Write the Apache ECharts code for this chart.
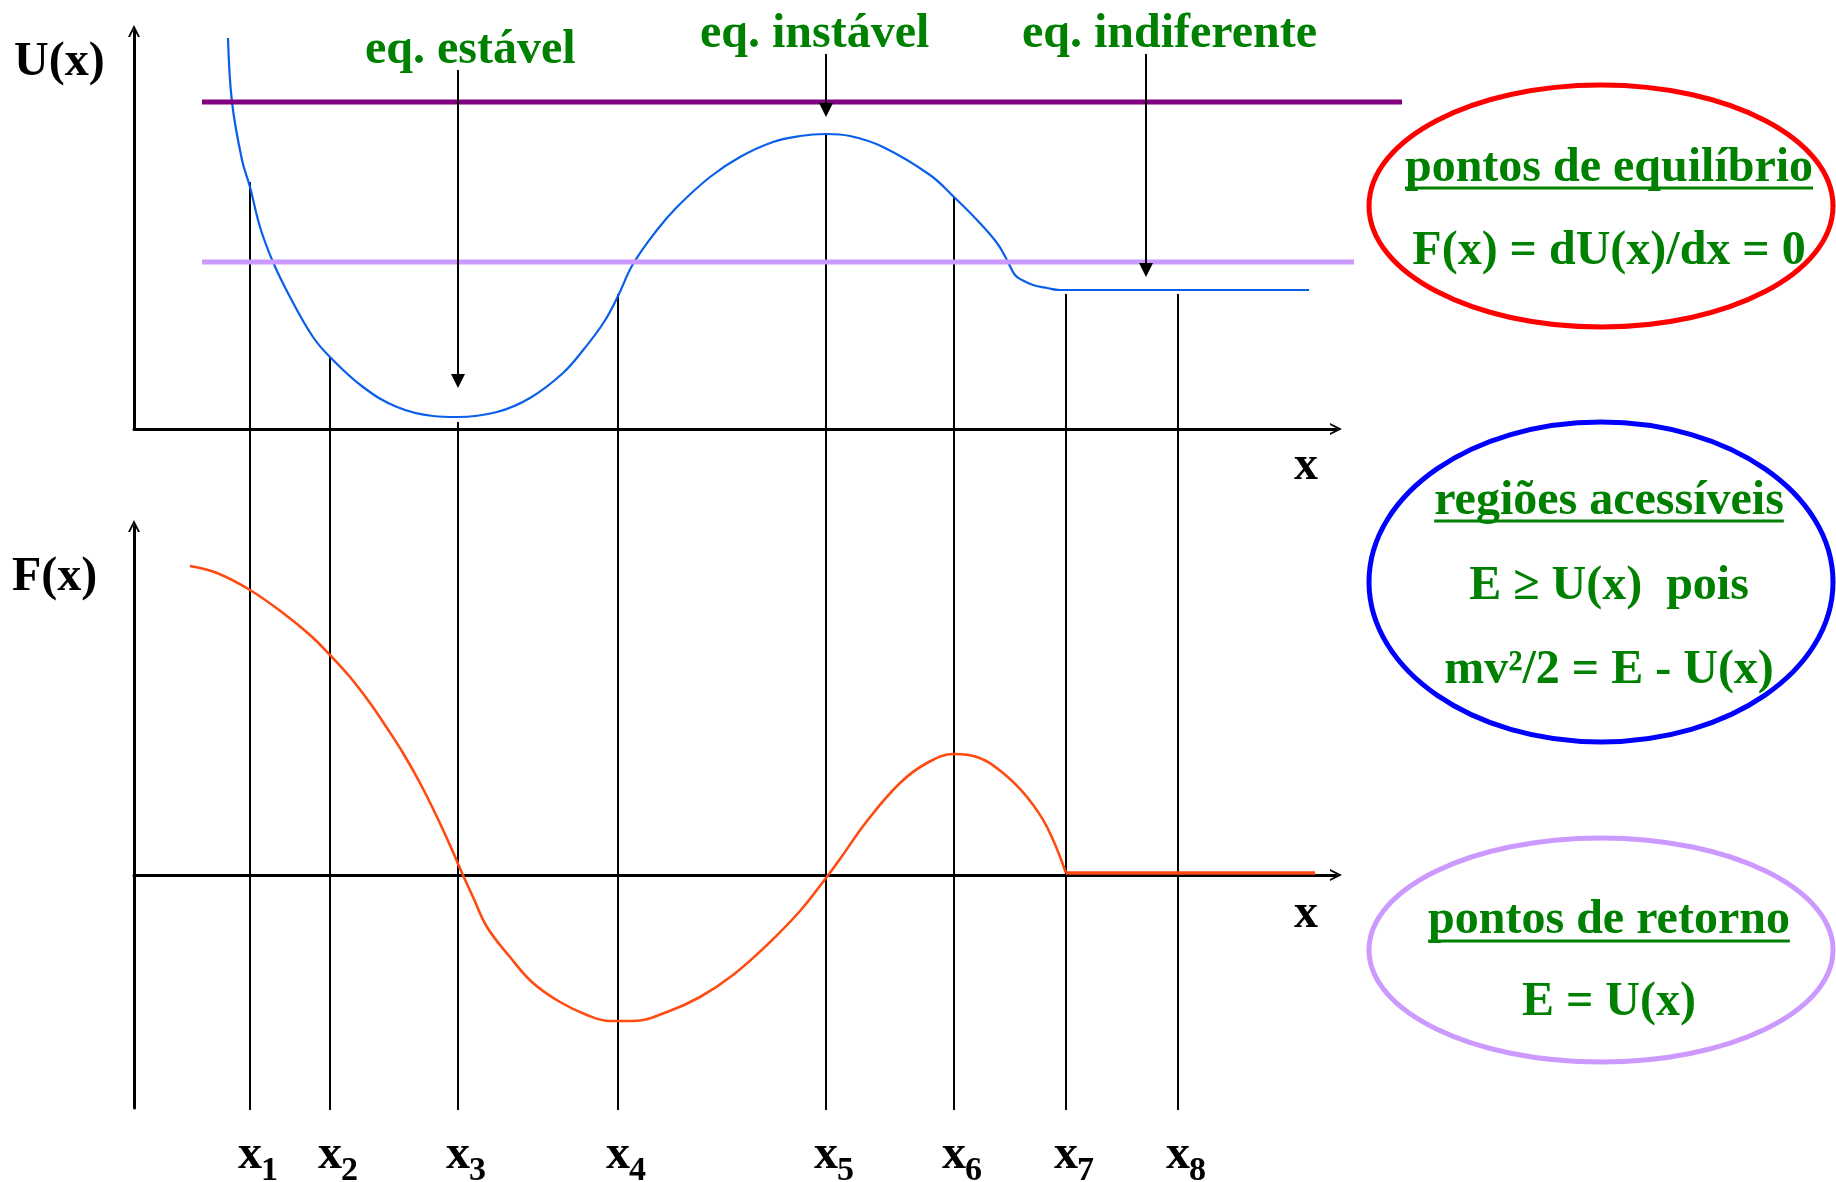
<!DOCTYPE html>
<html>
<head>
<meta charset="utf-8">
<script src="https://cdn.jsdelivr.net/npm/echarts@6/dist/echarts.min.js"></script>
<style>
html,body{margin:0;padding:0;background:#ffffff;}
#c{width:1836px;height:1182px;}
</style>
</head>
<body>
<div id="c"></div>
<script>
// ---------------- DATA ----------------
// Potential energy U(x)
const uCurveX = [0.94, 0.98, 1.08, 1.16, 1.26, 1.39, 1.56, 1.79, 1.96, 2.29, 2.63, 2.99, 3.23, 3.63, 3.96, 4.29, 4.50, 4.70, 4.84, 4.99, 5.23, 5.43, 5.76, 6.06, 6.39, 6.66, 6.92, 7.16, 7.49, 7.96, 8.20, 8.43, 8.63, 8.73, 8.81, 8.88, 8.99, 9.13, 9.26, 11.75];
const uCurveY = [3.91, 3.27, 2.69, 2.42, 2.02, 1.67, 1.32, 0.92, 0.72, 0.42, 0.22, 0.13, 0.12, 0.17, 0.31, 0.56, 0.80, 1.07, 1.33, 1.65, 1.99, 2.22, 2.52, 2.72, 2.87, 2.93, 2.95, 2.93, 2.82, 2.54, 2.32, 2.09, 1.86, 1.69, 1.54, 1.49, 1.44, 1.41, 1.39, 1.39];
// Force F(x): curved part and flat tail after x7
const fCurveX = [0.56, 0.83, 1.16, 1.49, 1.76, 1.96, 2.16, 2.36, 2.53, 2.69, 2.86, 3.03, 3.19, 3.28, 3.39, 3.53, 3.76, 3.99, 4.26, 4.53, 4.76, 4.99, 5.33, 5.66, 5.99, 6.33, 6.66, 6.92, 7.06, 7.33, 7.66, 7.93, 8.20, 8.43, 8.69, 8.93, 9.13, 9.32];
const fCurveY = [3.09, 3.02, 2.85, 2.62, 2.40, 2.20, 1.98, 1.72, 1.47, 1.22, 0.92, 0.58, 0.23, 0.02, -0.22, -0.52, -0.82, -1.08, -1.27, -1.40, -1.46, -1.46, -1.37, -1.22, -1.00, -0.70, -0.36, -0.03, 0.16, 0.54, 0.92, 1.12, 1.21, 1.18, 1.02, 0.78, 0.48, 0.02];
const fTailX = [9.32, 11.81];
const fTailY = [0.02, 0.02];
// Energy levels (horizontal lines)
const energyLevel = [3.27, 1.67];
const energyStartX = [0.68, 0.68];
const energyEndX = [12.68, 12.20];
// Marked points x1..x8
const pointNames = ['1', '2', '3', '4', '5', '6', '7', '8'];
const pointX = [1.16, 1.96, 3.24, 4.84, 6.92, 8.20, 9.32, 10.44];
const guideTopU = [2.47, 0.71, 0.07, 1.35, 2.95, 2.32, 1.35, 1.35];
// Equilibrium annotations
const eqLabels = ['eq. estável', 'eq. instável', 'eq. indiferente'];
const eqArrowX = [3.24, 6.92, 10.12];
const eqArrowTipU = [0.41, 3.12, 1.52];
// Axis limits
const xMax = 12.02;
const uMin = 0, uMax = 3.98;
const fMin = -2.33, fMax = 3.49;

// ---------------- LAYOUT / STYLE ----------------
const SERIF = '"Liberation Serif","Times New Roman",serif';
const F48 = 'bold 48px ' + SERIF;
const FSUB = 'bold 34px ' + SERIF;
const GREEN = '#008000';
const G0 = {left: 134, top: 31, width: 1202, height: 398};
const G1 = {left: 134, top: 526, width: 1202, height: 582};
const GUIDE_BOTTOM = G1.top + G1.height + 2;
const MID = 0.23; // middle-to-baseline offset in em
const XLAB_BASE = 1167, SUB_BASE = 1179;
const ARROW_TOP = [70, 54, 54];
const EQ_TEXT = [{x: 365, base: 62}, {x: 700, base: 46}, {x: 1022, base: 46}];
const arrowPath = 'path://M0,10 L5,0 L10,10 L8.3,10 L5,3.4 L1.7,10 Z';

function measure(text, font) {
  const c = document.createElement('canvas').getContext('2d');
  c.font = font;
  return c.measureText(text).width;
}
function txt(text, x, base, font, fill, align, size) {
  return {type: 'text', z: 10, silent: true,
    style: {text: text, x: x, y: base - MID * size, font: font, fill: fill,
      align: align, verticalAlign: 'middle', textAlign: align, textVerticalAlign: 'middle'}};
}
function underline(text, cx, y) {
  const w = measure(text, F48);
  return {type: 'line', z: 10, silent: true,
    shape: {x1: cx - w / 2, y1: y, x2: cx + w / 2, y2: y},
    style: {stroke: GREEN, lineWidth: 3}};
}

const chart = echarts.init(document.getElementById('c'), null, {renderer: 'canvas'});

function axisCommon(extra) {
  return Object.assign({
    type: 'value',
    axisLine: {show: true, onZero: true, symbol: ['none', arrowPath], symbolSize: [12, 12],
      lineStyle: {color: '#000', width: 3}},
    axisTick: {show: false}, axisLabel: {show: false}, splitLine: {show: false}
  }, extra);
}

function zip(xs, ys) { return xs.map((x, i) => [x, ys[i]]); }

const guideData = pointX.map((x, i) => [x, guideTopU[i]]);
const arrowData = eqArrowX.map((x, i) => [x, eqArrowTipU[i]]);
const energyData = energyLevel.map((e, i) => [energyStartX[i], e, energyEndX[i]]);
const energyColors = ['#800080', '#CC99FF'];

const graphics = [];
// axis titles
graphics.push(txt('U(x)', 14, 74, F48, '#000', 'left', 48));
graphics.push(txt('F(x)', 12, 589, F48, '#000', 'left', 48));
graphics.push(txt('x', 1306, 478, F48, '#000', 'center', 48));
graphics.push(txt('x', 1306, 926, F48, '#000', 'center', 48));
// equilibrium labels
eqLabels.forEach((t, i) => graphics.push(txt(t, EQ_TEXT[i].x, EQ_TEXT[i].base, F48, GREEN, 'left', 48)));
// ellipses
graphics.push({type: 'ellipse', z: 5, silent: true, shape: {cx: 1601, cy: 206, rx: 232, ry: 121},
  style: {fill: 'none', stroke: '#FF0000', lineWidth: 5}});
graphics.push({type: 'ellipse', z: 5, silent: true, shape: {cx: 1601, cy: 582, rx: 232, ry: 160},
  style: {fill: 'none', stroke: '#0000FF', lineWidth: 5}});
graphics.push({type: 'ellipse', z: 5, silent: true, shape: {cx: 1601, cy: 950, rx: 232, ry: 112},
  style: {fill: 'none', stroke: '#CC99FF', lineWidth: 5}});
// ellipse texts
const TCX = 1609;
graphics.push(txt('pontos de equilíbrio', TCX, 180, F48, GREEN, 'center', 48));
graphics.push(underline('pontos de equilíbrio', TCX, 188));
graphics.push(txt('F(x) = dU(x)/dx = 0', TCX, 263, F48, GREEN, 'center', 48));
graphics.push(txt('regiões acessíveis', TCX, 513, F48, GREEN, 'center', 48));
graphics.push(underline('regiões acessíveis', TCX, 521));
graphics.push(txt('E ≥ U(x)  pois', TCX, 598, F48, GREEN, 'center', 48));
graphics.push(txt('mv²/2 = E - U(x)', TCX, 682, F48, GREEN, 'center', 48));
graphics.push(txt('pontos de retorno', TCX, 932, F48, GREEN, 'center', 48));
graphics.push(underline('pontos de retorno', TCX, 941));
graphics.push(txt('E = U(x)', TCX, 1014, F48, GREEN, 'center', 48));

const option = {
  animation: false,
  backgroundColor: '#ffffff',
  grid: [
    Object.assign({containLabel: false}, G0),
    Object.assign({containLabel: false}, G1)
  ],
  xAxis: [
    axisCommon({gridIndex: 0, min: 0, max: xMax}),
    axisCommon({gridIndex: 1, min: 0, max: xMax})
  ],
  yAxis: [
    axisCommon({gridIndex: 0, min: uMin, max: uMax}),
    axisCommon({gridIndex: 1, min: fMin, max: fMax})
  ],
  graphic: {elements: graphics},
  series: [
    {
      name: 'guides', type: 'custom', xAxisIndex: 0, yAxisIndex: 0, z: 1, silent: true,
      data: guideData,
      renderItem: function (params, api) {
        const i = params.dataIndex;
        const p = api.coord([api.value(0), api.value(1)]);
        return {type: 'group', children: [
          {type: 'line', shape: {x1: p[0], y1: p[1], x2: p[0], y2: GUIDE_BOTTOM}, style: {stroke: '#000', lineWidth: 2}},
          {type: 'text', style: {text: 'x', x: p[0], y: XLAB_BASE - MID * 48, font: F48, fill: '#000',
            align: 'center', verticalAlign: 'middle', textAlign: 'center', textVerticalAlign: 'middle'}},
          {type: 'text', style: {text: pointNames[i], x: p[0] + 11, y: SUB_BASE - MID * 34, font: FSUB, fill: '#000',
            align: 'left', verticalAlign: 'middle', textAlign: 'left', textVerticalAlign: 'middle'}}
        ]};
      }
    },
    {
      name: 'U(x)', type: 'line', xAxisIndex: 0, yAxisIndex: 0, z: 3, silent: true,
      data: zip(uCurveX, uCurveY), showSymbol: false, symbol: 'none', smooth: 0.4,
      clip: false, lineStyle: {color: '#0A5FEA', width: 2.2}
    },
    {
      name: 'F(x)', type: 'line', xAxisIndex: 1, yAxisIndex: 1, z: 3, silent: true,
      data: zip(fCurveX, fCurveY), showSymbol: false, symbol: 'none', smooth: 0.4,
      clip: false, lineStyle: {color: '#FF4A10', width: 2.6}
    },
    {
      name: 'F(x) tail', type: 'line', xAxisIndex: 1, yAxisIndex: 1, z: 3, silent: true,
      data: zip(fTailX, fTailY), showSymbol: false, symbol: 'none',
      clip: false, lineStyle: {color: '#FF4A10', width: 3.5}
    },
    {
      name: 'energy', type: 'custom', xAxisIndex: 0, yAxisIndex: 0, z: 4, silent: true,
      data: energyData,
      renderItem: function (params, api) {
        const i = params.dataIndex;
        const x0 = api.value(0), e = api.value(1), x1 = api.value(2);
        const p = api.coord([x0, e]);
        const unit = api.size([1, 0])[0];
        return {type: 'line', shape: {x1: p[0], y1: p[1], x2: p[0] + (x1 - x0) * unit, y2: p[1]},
          style: {stroke: energyColors[i], lineWidth: 5}};
      }
    },
    {
      name: 'arrows', type: 'custom', xAxisIndex: 0, yAxisIndex: 0, z: 5, silent: true,
      data: arrowData,
      renderItem: function (params, api) {
        const i = params.dataIndex;
        const t = api.coord([api.value(0), api.value(1)]);
        return {type: 'group', children: [
          {type: 'line', shape: {x1: t[0], y1: ARROW_TOP[i], x2: t[0], y2: t[1] - 12}, style: {stroke: '#000', lineWidth: 2}},
          {type: 'polygon', shape: {points: [[t[0] - 7, t[1] - 14], [t[0] + 7, t[1] - 14], [t[0], t[1]]]}, style: {fill: '#000'}}
        ]};
      }
    }
  ]
};
chart.setOption(option);
</script>
</body>
</html>
